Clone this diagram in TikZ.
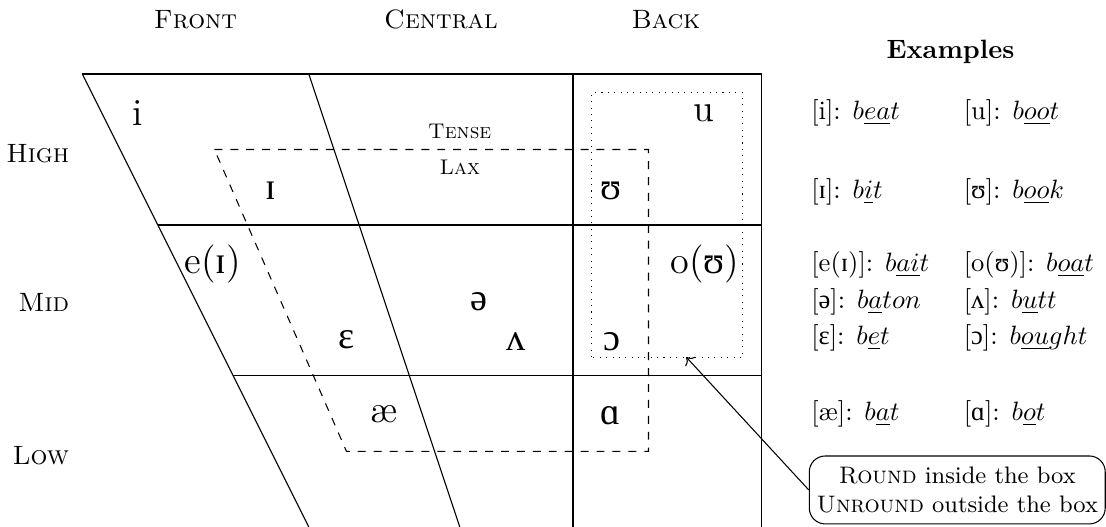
\documentclass[tikz,border=0pt]{standalone}
\usepackage{fontspec}
\usepackage{tikz}
\usetikzlibrary{positioning,arrows.meta}
\newfontfamily\ipafont{Liberation Serif}
\newcommand{\ip}[1]{{\ipafont #1}}

\begin{document}
\begin{tikzpicture}[
  vowel/.style={font=\Large},
  place/.style={font=\normalsize},
  height/.style={place,anchor=east},
  tl/.style={font=\footnotesize},
  ex/.style={anchor=west,inner sep=0pt},
  note/.style={draw,rounded corners=6pt,align=center,font=\small,minimum width=3.92cm,minimum height=0.9cm,inner sep=2pt},
  arr/.style={->,thin}]
  \useasboundingbox (-1.09,0) rectangle (13.56,6.98);

  % chart
  \draw (0,6) -- (9,6);
  \draw (1,4) -- (9,4);
  \draw (2,2) -- (9,2);
  \draw (0,6) -- (3,0);
  \draw (3,6) -- (5,0);
  \draw (6.5,6) -- (6.5,0);
  \draw (9,6) -- (9,0);
  \draw[dashed] (1.75,5) -- (7.5,5) -- (7.5,1) -- (3.5,1) -- cycle;
  \draw[dotted] (6.75,2.25) rectangle (8.75,5.75);

  \node[place] (front) at (1.5,6.72) {\textsc{Front}};
  \node[place] (central) at (4.75,6.72) {\textsc{Central}};
  \node[place] (back) at (7.73,6.72) {\textsc{Back}};
  \node[height] (high) at (-0.05,4.95) {\textsc{High}};
  \node[height] (mid) at (-0.05,2.97) {\textsc{Mid}};
  \node[height] (low) at (-0.05,0.95) {\textsc{Low}};
  \node[tl,anchor=south] (tense) at (5,5.02) {\textsc{Tense}};
  \node[tl,anchor=north] (lax) at (5,4.98) {\textsc{Lax}};

  \node[vowel] (i) at (0.74,5.48) {i};
  \node[vowel] (I) at (2.5,4.45) {\ip{ɪ}};
  \node[vowel] (e) at (1.73,3.48) {e(\ip{ɪ})};
  \node[vowel] (E) at (3.5,2.48) {\ip{ɛ}};
  \node[vowel] (schwa) at (5.26,2.98) {\ip{ə}};
  \node[vowel] (V) at (5.75,2.46) {\ip{ʌ}};
  \node[vowel] (ae) at (4,1.5) {æ};
  \node[vowel] (u) at (8.24,5.48) {u};
  \node[vowel] (U) at (7,4.45) {\ip{ʊ}};
  \node[vowel] (o) at (8.25,3.48) {o(\ip{ʊ})};
  \node[vowel] (O) at (7.02,2.46) {\ip{ɔ}};
  \node[vowel] (A) at (7,1.48) {\ip{ɑ}};

  \node (examples) at (11.5,6.29) {\textbf{Examples}};
  \node[ex] (x1) at (9.65,5.48) {[i]: $b\underline{ea}t$};
  \node[ex] (y1) at (11.67,5.48) {[u]: $b\underline{oo}t$};
  \node[ex] (x2) at (9.65,4.44) {[\ip{ɪ}]: $b\underline{i}t$};
  \node[ex] (y2) at (11.67,4.44) {[\ip{ʊ}]: $b\underline{oo}k$};
  \node[ex] (x3) at (9.65,3.47) {[e(\ip{ɪ})]: $b\underline{ai}t$};
  \node[ex] (y3) at (11.67,3.47) {[o(\ip{ʊ})]: $b\underline{oa}t$};
  \node[ex] (x4) at (9.65,2.98) {[\ip{ə}]: $b\underline{a}ton$};
  \node[ex] (y4) at (11.67,2.98) {[\ip{ʌ}]: $b\underline{u}tt$};
  \node[ex] (x5) at (9.65,2.5) {[\ip{ɛ}]: $b\underline{e}t$};
  \node[ex] (y5) at (11.67,2.5) {[\ip{ɔ}]: $b\underline{ou}ght$};
  \node[ex] (x6) at (9.65,1.5) {[æ]: $b\underline{a}t$};
  \node[ex] (y6) at (11.67,1.5) {[\ip{ɑ}]: $b\underline{o}t$};

  \node[note] (round) at (11.59,0.49) {\textsc{Round} inside the box\\\textsc{Unround} outside the box};
  \coordinate (roundbox) at (8,2.25);
  \draw[arr] (round.west) -- (roundbox);
\end{tikzpicture}
\end{document}
